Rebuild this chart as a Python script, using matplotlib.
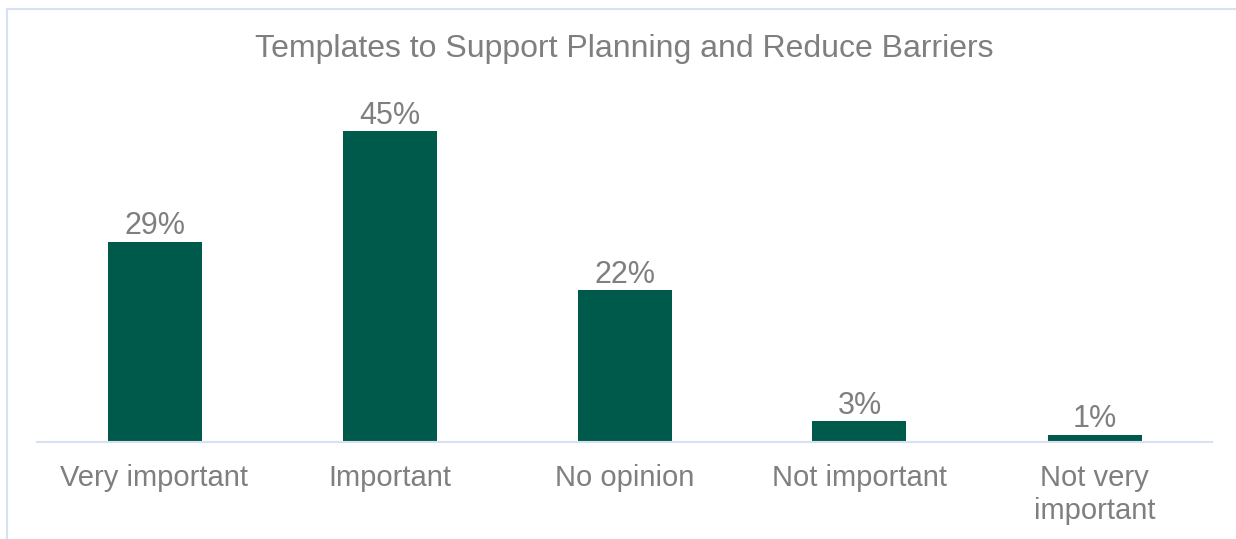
import matplotlib.pyplot as plt
from matplotlib.lines import Line2D

categories = ['Very important', 'Important', 'No opinion', 'Not important', 'Not very\nimportant']
values = [29, 45, 22, 3, 1]
labels = ['29%', '45%', '22%', '3%', '1%']

GREEN = '#005A4B'
GRAY = '#7F7F7F'
EDGE = '#D6E2F3'

plt.rcParams['font.family'] = ['Liberation Sans', 'DejaVu Sans']

fig = plt.figure(figsize=(12.36, 5.39), dpi=100)
ax = fig.add_axes([37 / 1236, 1 - 442 / 539, 1175 / 1236, 345 / 539])

x = range(len(categories))
ax.bar(x, values, width=0.4, color=GREEN)
for xi, v, lab in zip(x, values, labels):
    ax.text(xi, v + 0.1, lab, ha='center', va='bottom', fontsize=22, color=GRAY)

ax.set_xlim(-0.5, len(categories) - 0.5)
ax.set_ylim(0, 50)
ax.set_xticks(list(x))
ax.set_xticklabels(categories, fontsize=21, color=GRAY, linespacing=1.2)
ax.tick_params(axis='x', length=0, pad=16)
ax.set_yticks([])
for s in ['top', 'right', 'left']:
    ax.spines[s].set_visible(False)
ax.spines['bottom'].set_color(EDGE)
ax.spines['bottom'].set_linewidth(1.5)

fig.text(624 / 1236, 1 - 49 / 539, 'Templates to Support Planning and Reduce Barriers',
         ha='center', va='center', fontsize=23, color=GRAY)

# chart border (top and left visible)
fig.add_artist(Line2D([7 / 1236, 1.0], [1 - 9 / 539, 1 - 9 / 539], color=EDGE, lw=1.5,
                      transform=fig.transFigure))
fig.add_artist(Line2D([7 / 1236, 7 / 1236], [0.0, 1 - 9 / 539], color=EDGE, lw=1.5,
                      transform=fig.transFigure))

fig.savefig('out.png', dpi=100)
